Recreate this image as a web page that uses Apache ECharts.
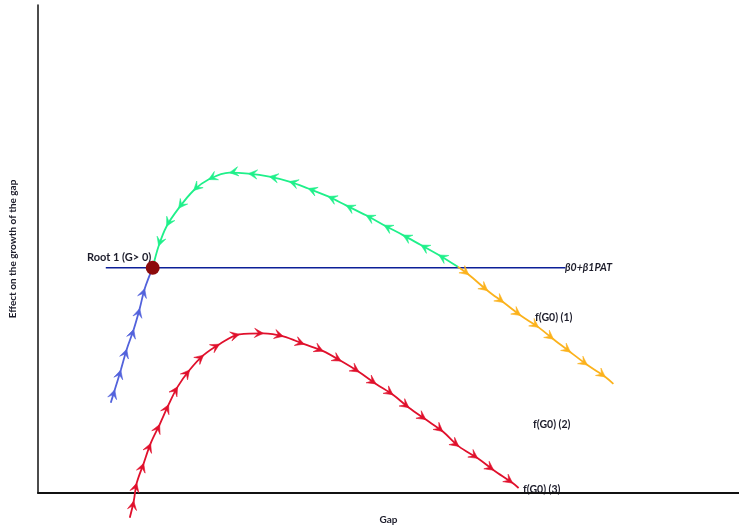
<!DOCTYPE html>
<html><head><meta charset="utf-8">
<script src="https://cdn.jsdelivr.net/npm/echarts@6/dist/echarts.min.js"></script>
<style>html,body{margin:0;padding:0;background:#fff}#c{width:739px;height:530px}</style>
</head><body><div id="c"></div>
<script>
// Curves in data units (x: Gap 0-100, y: effect 0-100), in direction of travel
const blueCurve = [[10.38,18.50],[10.95,21.14],[11.81,25.20],[12.66,29.47],[13.66,33.54],[14.51,37.80],[15.22,41.87],[16.36,46.14]];
const greenCurve = [[59.89,46.34],[57.18,48.78],[54.62,50.81],[52.06,52.85],[49.36,54.88],[46.80,56.91],[43.95,58.94],[41.39,60.77],[38.55,62.40],[35.85,63.82],[33.00,64.84],[30.01,65.45],[27.31,65.65],[24.32,64.23],[22.19,61.99],[20.06,58.33],[18.35,54.67],[17.21,50.61],[16.36,46.14]];
const orangeCurve = [[59.89,46.34],[61.45,44.72],[64.15,41.46],[66.43,39.02],[68.85,36.38],[71.41,33.94],[73.54,31.50],[75.96,28.86],[78.38,26.22],[80.94,23.78],[82.08,22.36]];
const redCurve = [[13.09,-5.08],[13.66,-1.63],[14.08,2.03],[15.08,6.10],[16.07,10.16],[17.35,14.02],[18.63,18.09],[19.91,21.75],[21.62,25.20],[23.61,28.25],[25.89,30.49],[28.73,32.52],[32.15,32.72],[34.99,32.11],[37.98,30.49],[40.68,29.07],[43.24,27.03],[45.80,24.80],[48.22,22.36],[50.64,20.12],[52.92,17.48],[55.33,15.04],[57.75,12.60],[60.03,9.55],[62.73,7.11],[65.01,4.67],[67.71,2.03],[68.56,1.02]];
const thresholdY = 46.14;
const thresholdXRange = [9.67, 75.25];
const rootPoint = [16.36, 46.14];

const chart = echarts.init(document.getElementById('c'), null, {renderer: 'canvas'});
const fontFam = 'Lato, "Open Sans", sans-serif';
const labelFont = {fontFamily: fontFam, fontSize: 10.5, fontWeight: 'bold', fill: '#1d1d2b'};

function curveSeries(data, color) {
  return {type: 'line', data: data, showSymbol: false, smooth: 0.35, clip: false, z: 3,
    lineStyle: {color: color, width: 1.8}, silent: true};
}
function arrowSeries(data, color) {
  return {
    type: 'custom', coordinateSystem: 'cartesian2d', clip: false, silent: true, z: 4,
    encode: {x: 0, y: 1},
    data: data.map(function (p) { return [p[0], p[1]]; }),
    renderItem: function (params, api) {
      const i = params.dataIndex;
      if (i === 0 || i === data.length - 1) return null;
      const p = api.coord(data[i]);
      const n = api.coord(data[i + 1]);
      const q = api.coord(data[i - 1]);
      let dx = n[0] - q[0], dy = n[1] - q[1];
      const len = Math.hypot(dx, dy) || 1; dx /= len; dy /= len;
      const L = 10, th = 0.48, c = Math.cos(th), s = Math.sin(th);
      const b1 = [p[0] - L * (dx * c - dy * s), p[1] - L * (dy * c + dx * s)];
      const b2 = [p[0] - L * (dx * c + dy * s), p[1] - L * (dy * c - dx * s)];
      const m = [p[0] - L * 0.5 * dx, p[1] - L * 0.5 * dy];
      return {type: 'polygon', shape: {points: [p, b1, m, b2]},
        style: {fill: color, stroke: color, lineWidth: 0.6, lineJoin: 'miter'}};
    }
  };
}

const colors = {blue: '#5262dc', green: '#1ff08a', orange: '#fbb21c', red: '#e0102c', navy: '#0c1f98', root: '#8c0b0b'};

chart.setOption({
  animation: false,
  backgroundColor: '#fff',
  grid: {left: 36, right: 0, top: 5, bottom: 33},
  xAxis: {type: 'value', min: 0, max: 100, axisLabel: {show: false}, axisTick: {show: false}, splitLine: {show: false},
    axisLine: {lineStyle: {color: '#111', width: 2}},
    name: 'Gap', nameLocation: 'middle', nameGap: 22,
    nameTextStyle: {fontFamily: fontFam, fontSize: 10, fontWeight: 'bold', color: '#1d1d2b'}},
  yAxis: {type: 'value', min: 0, max: 100, axisLabel: {show: false}, axisTick: {show: false}, splitLine: {show: false},
    axisLine: {lineStyle: {color: '#111', width: 1.5}},
    name: 'Effect on the growth of the gap', nameLocation: 'middle', nameGap: 20, nameRotate: 90,
    nameTextStyle: {fontFamily: fontFam, fontSize: 10, fontWeight: 'bold', color: '#1d1d2b'}},
  series: [
    {type: 'line', data: [[thresholdXRange[0], thresholdY], [thresholdXRange[1], thresholdY]], showSymbol: false, z: 2,
      lineStyle: {color: colors.navy, width: 1.5}, silent: true},
    curveSeries(blueCurve, colors.blue), arrowSeries(blueCurve, colors.blue),
    curveSeries(greenCurve, colors.green), arrowSeries(greenCurve, colors.green),
    curveSeries(orangeCurve, colors.orange), arrowSeries(orangeCurve, colors.orange),
    curveSeries(redCurve, colors.red), arrowSeries(redCurve, colors.red),
    {type: 'scatter', data: [rootPoint], symbolSize: 14, z: 10, itemStyle: {color: colors.root, opacity: 1}, silent: true}
  ],
  graphic: [
    {type: 'text', left: 87, top: 252, style: Object.assign({text: 'Root 1 (G> 0)'}, labelFont, {fontSize: 11})},
    {type: 'text', left: 565, top: 262, style: Object.assign({text: 'β0+β1PAT', fontStyle: 'italic'}, labelFont)},
    {type: 'text', left: 535, top: 312, style: Object.assign({text: 'f(G0) (1)'}, labelFont)},
    {type: 'text', left: 533, top: 419, style: Object.assign({text: 'f(G0) (2)'}, labelFont)},
    {type: 'text', left: 523, top: 484, style: Object.assign({text: 'f(G0) (3)'}, labelFont)}
  ]
});
</script></body></html>
